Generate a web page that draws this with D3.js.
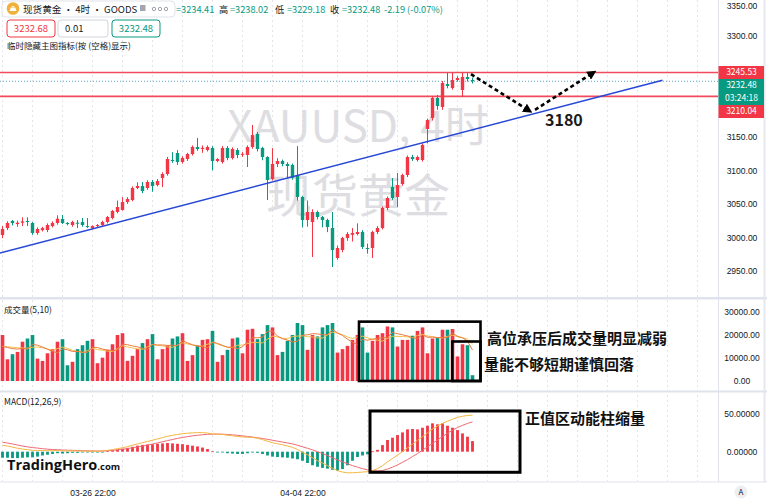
<!DOCTYPE html>
<html>
<head>
<meta charset="utf-8">
<script src="https://cdn.jsdelivr.net/npm/d3@7"></script>
<style>
  body { margin: 0; background: #fff; }
  svg { display: block; font-family: "Noto Sans CJK SC", "Noto Sans", sans-serif; }
</style>
</head>
<body>
<svg id="chart" width="767" height="500"></svg>
<script>
// ---------- data (XAUUSD 4H) ----------
const opens = [3003.7,3014,3024.6,3020,3022,3024.6,3021.6,3006.7,3011,3011.2,3017,3021.6,3027.5,3021.6,3018.6,3022,3023,3017,3014,3017,
  3018.6,3023,3029,3038,3041,3052.8,3055.8,3073.7,3076.6,3073.7,3082.6,3078,3088.5,3094.5,3115.3,3125.7,3112.4,3116.8,3124.3,3134.7,
  3131.7,3130.2,3133.2,3113.8,3112.4,3133.2,3118.3,3130.2,3123,3122.8,3134.7,3154,3133.2,3119.8,3087,3109.4,3113.8,3109.4,3107.9,3093,
  3060.3,3026,3023,3037.9,3030.5,3026,3014.1,2969.5,2981.4,2999.3,3004,3005.2,3008.2,2984.4,2984.4,3008.2,3014.1,3043.9,3075.2,3060.3,
  3079.6,3093,3119.8,3115.3,3115.3,3161.5,3177.8,3207.6,3194.2,3228.4,3222.5,3234.4,3219.5,3238.8,3234.41];
const highs = [3017,3024,3026,3025,3030,3030,3023,3015,3016,3021,3024,3033,3033.5,3023,3025,3026,3029,3029,3018,3020,
  3025,3032,3041,3055,3060,3060,3076,3082,3082.6,3085,3085.6,3087,3097,3120,3127,3130,3121,3126,3137,3148,
  3137,3137,3136,3118,3136,3136,3134,3133,3127,3137,3167.4,3157,3135,3121,3133,3118,3116,3112,3110,3136,
  3062,3055,3042,3040,3032,3028,3037.9,2988,3001,3008,3014,3021,3011,2991,3010,3017,3046,3061,3088.5,3096,
  3095,3122,3123,3122,3140,3177,3210,3212,3233,3244.8,3245,3240,3245.5,3245,3238.02];
const lows = [2999,3011,3018,3016,3017,3017,3004,3004,3009,3008,3015,3019,3020,3018,3016,3014,3016,3014,3012,3015,
  3016,3021,3027,3036,3040,3050,3054,3072,3066,3071,3068,3076,3075,3092,3111,3108,3110,3114,3122,3129,
  3126,3128,3100,3112,3110,3115,3116,3118,3120,3104.9,3132,3128,3115,3055.8,3085,3105,3106,3088,3086,3055,
  3015,3016,2971,3027,3015,3008,2956.1,2967,2978,2995,2994,3003,2983,2976,2969.5,3005,3012,3041,3056,3045,
  3077,3090,3114,3113,3113,3140,3174,3190,3190,3222,3220,3232,3209.1,3232,3229.18];
const closes = [3012.7,3021.6,3021.6,3022,3024,3023,3006.7,3012.7,3014,3018.6,3021.6,3028,3021.6,3020,3023,3021,3018.6,3015.6,3017,3018.6,
  3023.1,3030.5,3039.4,3045.4,3052.8,3057.3,3073.7,3076.6,3069.2,3082.6,3076.6,3084,3094.5,3116.8,3113.8,3112.4,3118.3,3124.3,3134.7,3131.7,
  3133.5,3134.7,3113.8,3116.8,3133.2,3118.3,3131.7,3122.8,3124.5,3134.7,3152.5,3131.7,3119.8,3085.6,3109.4,3113.8,3109.4,3106.4,3089,3060.3,
  3026,3037.9,3037.9,3030.5,3026,3015.6,2981.4,2984.4,2999.3,3005.2,3006.7,3008.2,2985.9,2982.9,3008.2,3014.1,3043.9,3058.8,3058.8,3078.1,
  3093,3119.8,3116.8,3119.8,3137.7,3174.8,3207.6,3195.7,3229.9,3225.4,3234.4,3237.3,3238.8,3235.8,3232.48];

// volume, in thousands
const volumes = [19.9,9.4,11.6,12.6,17.0,18.4,19.9,9.7,8.7,12.0,13.8,17.0,18.1,6.8,8.3,13.8,15.5,17.4,18.1,7.7,
  10.1,13.5,15.9,19.9,20.7,8.7,10.9,13.8,16.4,18.1,20.3,9.4,13.8,15.5,18.4,19.3,20.7,8.7,11.2,15.5,
  17.8,18.1,21.7,8.3,11.2,13.5,18.4,18.8,12.0,22.2,22.6,18.1,20.3,24.2,23.2,11.2,12.6,17.4,19.9,25.1,
  24.2,13.5,19.9,19.3,23.2,24.2,25.1,12.3,13.8,15.2,17.8,19.9,23.2,12.3,17.4,19.9,20.7,23.6,23.2,14.9,
  17.8,17.8,19.6,21.7,23.2,12.0,18.4,18.8,22.2,22.2,22.5,10.6,15.9,15.5,2.5];
const volMa5 = [15.0,14.5,14.0,13.8,14.1,13.8,15.9,15.5,14.7,13.7,12.8,12.2,13.9,13.5,12.8,12.8,12.5,12.4,14.6,14.5,
  13.8,13.4,13.1,13.4,16.0,15.7,15.2,14.8,14.1,13.6,15.9,15.6,15.6,15.4,15.5,15.3,17.5,16.5,15.7,15.1,
  14.8,14.3,16.9,16.3,15.4,14.6,14.6,14.0,14.8,17.0,18.8,18.7,19.0,21.5,21.7,19.4,18.3,17.7,16.9,17.2,
  19.8,20.0,20.5,20.4,20.0,20.0,22.3,20.8,19.7,18.1,16.8,15.8,18.0,17.7,18.1,18.5,18.7,18.8,21.0,20.5,
  20.0,19.5,18.7,18.4,20.0,18.9,19.0,18.8,18.9,18.7,20.8,19.3,18.7,17.3,13.4];
const volMa10 = [15.0,14.8,14.6,14.4,14.3,14.2,14.6,14.7,14.4,13.9,13.3,14.05,14.7,14.1,13.25,12.8,12.35,13.15,14.05,13.65,
  13.3,12.95,12.75,14.0,15.25,14.75,14.3,13.95,13.75,14.8,15.8,15.4,15.2,14.75,14.55,15.6,16.55,16.05,15.55,15.3,
  15.05,15.9,16.7,16.0,15.25,14.7,14.45,15.45,15.55,16.2,16.7,16.65,16.5,18.15,19.35,19.1,18.5,18.35,19.2,19.45,
  19.6,19.15,19.1,18.65,18.6,19.9,21.15,20.65,20.05,19.05,18.4,19.05,19.4,18.7,18.1,17.65,17.25,18.4,19.35,19.3,
  19.25,19.1,18.75,19.7,20.25,19.45,19.25,18.75,18.65,19.35,19.85,19.15,18.75,18.1,16.05];

// MACD(12,26,9)
const macdHist = [-8,-8,-8.5,-8.5,-8,-7.5,-7.5,-6.5,-5,-4,-3,-2,-2.5,-2,-1.5,-1.5,-1,-1,-0.8,-0.5,
  -0.3,1,2,3,4,5,6.5,8,9,9.5,10,10.5,11,11.5,11,10.5,10,9,8,7,
  5.5,3.5,0.5,-0.5,-0.5,-2,-2.5,-3,-3,-2,-1,-1.5,-3,-5,-6.5,-7,-7.5,-8,-9,-10,
  -12,-15,-18,-20,-21.5,-22.5,-24,-25,-23,-18,-12,-7,-5,-3.5,0.5,2.5,8.8,15.5,18.6,22.1,
  25.6,29.6,30.1,29.6,31.8,34.5,37.6,36.3,37.6,34.5,31.8,28.7,24.3,19.9,14.1];
const macdDif = [8.5,7.5,6.0,4.6,3.5,2.7,1.8,1.6,1.5,1.3,1.4,1.6,1.1,1.0,1.05,0.85,0.9,0.7,0.6,0.65,
  0.85,1.8,2.8,4.0,5.3,6.7,8.5,10.3,12.0,13.6,15.2,17.0,18.7,20.5,21.7,22.9,23.9,24.5,25.0,25.3,
  25.3,24.8,23.6,23.2,23.0,21.8,21.1,20.2,19.5,19.2,18.9,17.8,16.0,13.9,11.9,10.5,9.1,7.6,5.8,3.0,
  -1,-4,-8,-12,-15,-18.5,-22,-25,-27,-28,-28,-27.5,-27,-26.5,-25,-22.5,-18.5,-13.5,-9,-4.5,
  0,5,10,15,20,25,30,34,37.5,40.5,43,45.5,47,48,48.5];
const macdDea = [12.5,11.5,10.2,8.9,7.5,6.4,5.5,4.8,4.0,3.3,2.9,2.6,2.3,2.0,1.8,1.6,1.4,1.2,1.0,0.9,
  1.0,1.3,1.8,2.5,3.3,4.2,5.2,6.3,7.5,8.8,10.2,11.7,13.2,14.7,16.2,17.6,18.9,20.0,21.0,21.8,
  22.5,23.0,23.3,23.4,23.2,22.8,22.3,21.7,21.0,20.2,19.4,18.5,17.5,16.4,15.2,14.0,12.8,11.6,10.3,8.6,
  6.5,4.5,2.5,0,-2.5,-5,-8,-11,-13.5,-16,-18.5,-20.5,-22.5,-24,-25,-25.5,-25,-23,-20.5,-17.5,
  -14,-10.5,-6.5,-2.5,2,6.5,11,15.5,20,24.5,28.5,32,35,37.5,39.5];

// axes (3250 and 3200 sit under the price tags, so they are not shown)
const priceTicks = [2950, 3000, 3050, 3100, 3150, 3300, 3350];
const volTicks = [0, 10, 20, 30];
const macdTicks = [0, 50];
const timeTickIdx = [18, 60];
const timeLabels = ["03-26 22:00", "04-04 22:00"];
const gridIdx = [0,6,12,18,24,30,36,42,48,54,60,67,73,79,85,91,97,103,109,115,121,127,133,139];

// levels and drawings
const levelHigh = 3245.53, levelLow = 3210.04, lastPrice = 3232.48;
const trendLine = [[-0.5, 2977], [132, 3234]];
const arrowDown = [[93.7, 3243], [105.5, 3188]];
const arrowUp = [[106.5, 3190], [118.3, 3246]];

// ---------- layout ----------
const plotRight = 718.5;
const upColor = "#f23645", downColor = "#089981";
const svg = d3.select("#chart");

const x = d3.scaleLinear().domain([-0.5, 143.1]).range([0, 718]);
const yPrice = d3.scaleLinear().domain([2950, 3350]).range([271.1, 2.3]);
const yVol = d3.scaleLinear().domain([0, 30]).range([381, 311.7]);
const yMacd = d3.scaleLinear().domain([0, 50]).range([451.7, 414]);

const candles = opens.map((o, i) => ({i: i, o: o, h: highs[i], l: lows[i], c: closes[i]}));
const colorOf = i => closes[i] >= opens[i] ? upColor : downColor;

const defs = svg.append("defs");
[["clipPrice", 0, 297], ["clipVol", 299.5, 91], ["clipMacd", 392.5, 89]].forEach(c => {
  defs.append("clipPath").attr("id", c[0]).append("rect")
    .attr("x", 0).attr("y", c[1]).attr("width", plotRight).attr("height", c[2]);
});
defs.append("marker").attr("id", "arrowHead")
  .attr("viewBox", "0 0 10 10").attr("refX", 7).attr("refY", 5)
  .attr("markerWidth", 3.6).attr("markerHeight", 3.6).attr("orient", "auto")
  .append("path").attr("d", "M0,0L10,5L0,10z").attr("fill", "#000");

// vertical grid
svg.append("g").selectAll("line").data(gridIdx).join("line")
  .attr("x1", d => x(d)).attr("x2", d => x(d))
  .attr("y1", 0).attr("y2", 481)
  .attr("stroke", "#e3e5ea").attr("stroke-dasharray", "2,3");

// watermark
const wm = svg.append("g").attr("fill", "#d6d7db").attr("opacity", 0.8).attr("text-anchor", "middle");
wm.append("text").attr("x", 358).attr("y", 142).style("font-size", "44px").text("XAUUSD, 4时");
wm.append("text").attr("x", 358).attr("y", 212).style("font-size", "46px").text("现货黄金");

// ---------- price panel ----------
const gp = svg.append("g").attr("clip-path", "url(#clipPrice)");

gp.append("line").attr("x1", 0).attr("x2", plotRight)
  .attr("y1", yPrice(lastPrice)).attr("y2", yPrice(lastPrice))
  .attr("stroke", "#5aa9c9").attr("stroke-dasharray", "1,2");
[levelHigh, levelLow].forEach(v => {
  gp.append("line").attr("x1", 0).attr("x2", plotRight)
    .attr("y1", yPrice(v)).attr("y2", yPrice(v))
    .attr("stroke", "#ef4b5c").attr("stroke-width", 1.6);
});

gp.selectAll(".wick").data(candles).join("line")
  .attr("class", "wick")
  .attr("x1", d => x(d.i)).attr("x2", d => x(d.i))
  .attr("y1", d => yPrice(d.h)).attr("y2", d => yPrice(d.l))
  .attr("stroke", d => colorOf(d.i)).attr("stroke-width", 1);
gp.selectAll(".body").data(candles).join("rect")
  .attr("class", "body")
  .attr("x", d => x(d.i) - 1.7).attr("width", 3.4)
  .attr("y", d => yPrice(Math.max(d.o, d.c)))
  .attr("height", d => Math.max(1, Math.abs(yPrice(d.o) - yPrice(d.c))))
  .attr("fill", d => colorOf(d.i));

// trend line
gp.append("line")
  .attr("x1", x(trendLine[0][0])).attr("y1", yPrice(trendLine[0][1]))
  .attr("x2", x(trendLine[1][0])).attr("y2", yPrice(trendLine[1][1]))
  .attr("stroke", "#2748d6").attr("stroke-width", 1.6);

// forecast arrows
[arrowDown, arrowUp].forEach(a => {
  svg.append("line")
    .attr("x1", x(a[0][0])).attr("y1", yPrice(a[0][1]))
    .attr("x2", x(a[1][0])).attr("y2", yPrice(a[1][1]))
    .attr("stroke", "#000").attr("stroke-width", 2.6)
    .attr("stroke-dasharray", "4,3")
    .attr("marker-end", "url(#arrowHead)");
});
svg.append("text").attr("x", 545).attr("y", 126)
  .style("font-size", "16px").style("font-weight", "bold").attr("fill", "#1a1a1a")
  .text("3180");

// ---------- volume panel ----------
const gv = svg.append("g").attr("clip-path", "url(#clipVol)");
gv.selectAll("rect").data(volumes).join("rect")
  .attr("x", (d, i) => x(i) - 1.8).attr("width", 3.6)
  .attr("y", d => yVol(d)).attr("height", d => yVol(0) - yVol(d))
  .attr("fill", (d, i) => colorOf(i));
const volLine = d3.line().x((d, i) => x(i)).y(d => yVol(d));
gv.append("path").attr("d", volLine(volMa10)).attr("fill", "none")
  .attr("stroke", "#f2c14e").attr("stroke-width", 1);
gv.append("path").attr("d", volLine(volMa5)).attr("fill", "none")
  .attr("stroke", "#ec7a3c").attr("stroke-width", 1);

// ---------- MACD panel ----------
const gm = svg.append("g").attr("clip-path", "url(#clipMacd)");
gm.selectAll("rect").data(macdHist).join("rect")
  .attr("x", (d, i) => x(i) - 1.4).attr("width", 2.8)
  .attr("y", d => Math.min(yMacd(d), yMacd(0)))
  .attr("height", d => Math.max(0.8, Math.abs(yMacd(d) - yMacd(0))))
  .attr("fill", d => d >= 0 ? upColor : downColor);
const macdLine = d3.line().x((d, i) => x(i)).y(d => yMacd(d));
gm.append("path").attr("d", macdLine(macdDea)).attr("fill", "none")
  .attr("stroke", "#ef6a74").attr("stroke-width", 1);
gm.append("path").attr("d", macdLine(macdDif)).attr("fill", "none")
  .attr("stroke", "#f4b63f").attr("stroke-width", 1);

// ---------- separators and axes ----------
svg.append("rect").attr("x", 0).attr("y", 297).attr("width", 767).attr("height", 2.5).attr("fill", "#e0e3eb");
svg.append("rect").attr("x", 0).attr("y", 390.5).attr("width", 767).attr("height", 2).attr("fill", "#e0e3eb");
svg.append("rect").attr("x", 0).attr("y", 481.5).attr("width", 767).attr("height", 1).attr("fill", "#e0e3eb");
svg.append("line").attr("x1", plotRight).attr("x2", plotRight).attr("y1", 0).attr("y2", 482).attr("stroke", "#e0e3eb");
svg.append("rect").attr("x", 763.5).attr("y", 0).attr("width", 2).attr("height", 482).attr("fill", "#e6e8ee");

function styleAxis(g) {
  g.select(".domain").remove();
  g.selectAll("text").attr("x", 23.5).attr("text-anchor", "middle")
    .attr("fill", "#131722").style("font-size", "8.5px");
}
const priceAxis = svg.append("g").attr("transform", `translate(${plotRight},0)`)
  .call(d3.axisRight(yPrice).tickValues(priceTicks).tickSize(0).tickFormat(d3.format(".2f")))
  .call(styleAxis);
// the top label is pushed inside the panel, as the platform does
priceAxis.selectAll(".tick").filter(d => d === 3350).select("text").attr("dy", "0.75em");
svg.append("g").attr("transform", `translate(${plotRight},0)`)
  .call(d3.axisRight(yVol).tickValues(volTicks).tickSize(0).tickFormat(d => (d * 1000).toFixed(2)))
  .call(styleAxis);
svg.append("g").attr("transform", `translate(${plotRight},0)`)
  .call(d3.axisRight(yMacd).tickValues(macdTicks).tickSize(0).tickFormat(d3.format(".5f")))
  .call(styleAxis);
const tAxis = svg.append("g").attr("transform", "translate(0,484)")
  .call(d3.axisBottom(x).tickValues(timeTickIdx).tickSize(0).tickPadding(6).tickFormat((d, k) => timeLabels[k]));
tAxis.select(".domain").remove();
tAxis.selectAll("text").attr("fill", "#131722").style("font-size", "8.5px");

// price tags on the axis
const tagTop = yPrice(levelHigh) - 6.5;
const tags = [
  {top: tagTop, h: 13, fill: upColor, lines: [levelHigh.toFixed(2)]},
  {top: tagTop + 13, h: 26, fill: downColor, lines: [lastPrice.toFixed(2), "03:24:18"]},
  {top: tagTop + 39, h: 13, fill: upColor, lines: [levelLow.toFixed(2)]}
];
tags.forEach(t => {
  svg.append("rect").attr("x", plotRight).attr("y", t.top).attr("width", 45.5).attr("height", t.h).attr("fill", t.fill);
  t.lines.forEach((s, k) => {
    svg.append("text").attr("x", plotRight + 23).attr("y", t.top + 6.5 + k * 13).attr("dy", "0.35em")
      .attr("text-anchor", "middle").attr("fill", "#fff").style("font-size", "8.5px").text(s);
  });
});

// ---------- annotations ----------
const boxes = svg.append("g").attr("fill", "none").attr("stroke", "#000");
boxes.append("rect").attr("x", x(71.3)).attr("y", yVol(25.7))
  .attr("width", x(95.6) - x(71.3)).attr("height", yVol(0) - yVol(25.7)).attr("stroke-width", 2.6);
boxes.append("rect").attr("x", x(89.96)).attr("y", yVol(17.1))
  .attr("width", x(95.6) - x(89.96)).attr("height", yVol(0) - yVol(17.1)).attr("stroke-width", 2.6);
boxes.append("rect").attr("x", x(73.5)).attr("y", yMacd(54))
  .attr("width", x(103.5) - x(73.5)).attr("height", yMacd(-27.3) - yMacd(54)).attr("stroke-width", 3);

const notes = [
  {i: 96.9, y: yVol(18.5), t: "高位承压后成交量明显减弱"},
  {i: 96.3, y: yVol(6.9), t: "量能不够短期谨慎回落"},
  {i: 104.5, y: yMacd(44.3), t: "正值区动能柱缩量"}
];
svg.append("g").selectAll("text").data(notes).join("text")
  .attr("x", d => x(d.i)).attr("y", d => d.y).attr("dy", "0.36em")
  .style("font-size", "15px").style("font-weight", "bold").attr("fill", "#111")
  .text(d => d.t);

// TradingHero logo
const logo = svg.append("text").attr("x", 7).attr("y", 470)
  .style("font-family", "'Open Sans', 'Noto Sans', sans-serif").attr("fill", "#111");
logo.append("tspan").style("font-size", "14.5px").style("font-weight", "bold").text("TradingHero");
logo.append("tspan").style("font-size", "9.5px").style("font-weight", "bold").text(".com");

// panel titles
svg.append("text").attr("x", 4).attr("y", 313).style("font-size", "8.5px").attr("fill", "#131722").text("成交量(5,10)");
svg.append("text").attr("x", 4).attr("y", 405).style("font-size", "8.5px").attr("fill", "#131722").text("MACD(12,26,9)");

// "A" button
svg.append("circle").attr("cx", 741).attr("cy", 492).attr("r", 6.5).attr("fill", "#eceef2");
svg.append("text").attr("x", 741).attr("y", 492).attr("dy", "0.35em").attr("text-anchor", "middle")
  .style("font-size", "8px").attr("fill", "#131722").text("A");

// ---------- header ----------
const hd = svg.append("g");
hd.append("rect").attr("x", 2).attr("y", 1).attr("width", 173).attr("height", 16).attr("rx", 4)
  .attr("fill", "#fff").attr("stroke", "#e0e3eb");
hd.append("circle").attr("cx", 13).attr("cy", 8.5).attr("r", 6.3).attr("fill", "#f0b13a");
hd.append("path").attr("d", "M9.5,11 L10.8,7.5 L15.2,7.5 L16.5,11 Z M11.5,7 A1.6,1.6 0 0 1 14.5,7 Z").attr("fill", "#fff");
hd.append("text").attr("x", 23).attr("y", 12.6).style("font-size", "9.6px").attr("fill", "#131722")
  .text("现货黄金 · 4时 · GOODS");
hd.append("rect").attr("x", 140).attr("y", 5).attr("width", 5.5).attr("height", 6).attr("fill", "#a3a6af");
[154, 160, 166].forEach(cx => {
  hd.append("circle").attr("cx", cx).attr("cy", 9).attr("r", 1.7).attr("fill", "none").attr("stroke", "#8a8d96").attr("stroke-width", 0.8);
});
const ohlc = [
  [176, "=3234.41", downColor], [219, "高", "#131722"], [230, "=3238.02", downColor],
  [275, "低", "#131722"], [287, "=3229.18", downColor], [330, "收", "#131722"],
  [342, "=3232.48", downColor], [384, "-2.19 (-0.07%)", downColor]
];
ohlc.forEach(o => {
  hd.append("text").attr("x", o[0]).attr("y", 12.6).style("font-size", "9.2px").attr("fill", o[2]).text(o[1]);
});
const quoteBoxes = [
  [7, 48, upColor, upColor, "3232.68", "middle"],
  [58, 50, "#d1d4dc", "#131722", "0.01", "start"],
  [112, 48, downColor, downColor, "3232.48", "middle"]
];
quoteBoxes.forEach(b => {
  hd.append("rect").attr("x", b[0]).attr("y", 20).attr("width", b[1]).attr("height", 17).attr("rx", 3)
    .attr("fill", "#fff").attr("stroke", b[2]);
  hd.append("text").attr("x", b[5] === "middle" ? b[0] + b[1] / 2 : b[0] + 7).attr("y", 28.5).attr("dy", "0.35em")
    .attr("text-anchor", b[5]).style("font-size", "9.5px").attr("fill", b[3]).text(b[4]);
});
hd.append("text").attr("x", 7).attr("y", 49).style("font-size", "8.5px").attr("fill", "#131722")
  .text("临时隐藏主图指标(按 (空格)显示)");
</script>
</body>
</html>
